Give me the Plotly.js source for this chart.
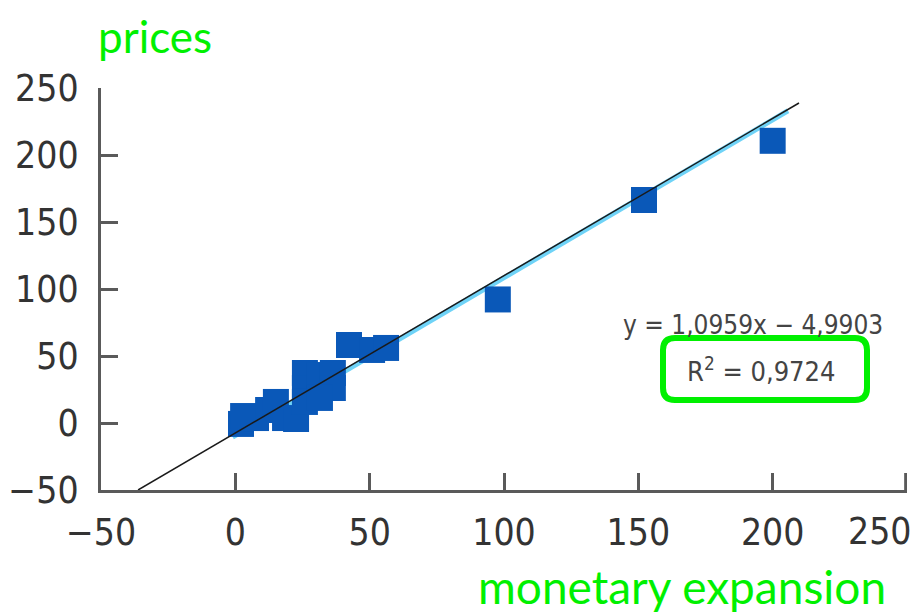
<!DOCTYPE html>
<html>
<head>
<meta charset="utf-8">
<script src="https://cdn.plot.ly/plotly-3.0.1.min.js"></script>
<style>html,body{margin:0;padding:0;background:#fff;}#chart{width:914px;height:616px;}</style>
</head>
<body>
<div id="chart"></div>
<script>
// Data
const expansion = [2.1, 2.9, 7.7, 12.2, 15.1, 18.5, 22.6, 25.9, 25.9, 25.9, 31.5, 36.3, 36.3, 31.5, 42.3, 50.9, 56.1, 97.7, 152.1, 200.0];
const prices    = [-0.7, 5.2, 3.7, 9.7, 15.7, 3.7, 3.0, 37.3, 26.1, 15.7, 35.8, 37.3, 26.1, 18.7, 58.2, 54.5, 56.0, 92.2, 166.4, 210.6];
const trendX = [-36.2, 209.8];
const trendY = [-50, 238.8];
const fitX = [-1, 205.7];
const fitY = [-10.5, 233.0];
const xTickValues = [-50, 0, 50, 100, 150, 200];
const yTickValues = [-50, 0, 50, 100, 150, 200, 250];
const xTickLabels = ['\u221250', '0', '50', '100', '150', '200'];
const yTickLabels = ['\u221250', '0', '50', '100', '150', '200', '250'];
const lastXValue = 250;
const lastXLabel = '250';
const equationText = 'y = 1,0959x \u2212 4,9903';
const r2Text = 'R<sup>2</sup> = 0,9724';
const xTitle = 'monetary expansion';
const yTitle = 'prices';

const tickFont = {family: '"DejaVu Sans Condensed", "Liberation Sans Narrow", sans-serif', size: 37, color: '#333333'};
const green = '#00f000';
const axisColor = '#5a5a5a';

const traces = [
  {x: fitX, y: fitY, mode: 'lines', line: {color: '#6fd3f7', width: 5}, hoverinfo: 'skip', showlegend: false},
  {x: expansion, y: prices, mode: 'markers', type: 'scatter',
   marker: {symbol: 'square', size: 26, color: '#0a58b8', line: {width: 0}}, showlegend: false},
  {x: trendX, y: trendY, mode: 'lines', line: {color: '#1a1a1a', width: 1.5}, hoverinfo: 'skip', showlegend: false}
];

const axisCommon = {
  showline: true, linecolor: axisColor, linewidth: 3,
  ticks: 'inside', ticklen: 17, tickwidth: 3, tickcolor: axisColor,
  showgrid: false, zeroline: false, tickfont: tickFont
};

// rounded box in paper coordinates
const bx0 = (663-101)/806, bx1 = (867-101)/806, by0 = (490-400)/402, by1 = (490-338)/402;
const rx = 12/806, ry = 12/402;
const boxPath = `M ${bx0+rx},${by0} L ${bx1-rx},${by0} Q ${bx1},${by0} ${bx1},${by0+ry} L ${bx1},${by1-ry} Q ${bx1},${by1} ${bx1-rx},${by1} L ${bx0+rx},${by1} Q ${bx0},${by1} ${bx0},${by1-ry} L ${bx0},${by0+ry} Q ${bx0},${by0} ${bx0+rx},${by0} Z`;

const layout = {
  width: 914, height: 616,
  margin: {l: 101, r: 7, t: 88, b: 126},
  paper_bgcolor: '#ffffff', plot_bgcolor: '#ffffff',
  showlegend: false,
  xaxis: Object.assign({}, axisCommon, {range: [-50, 250], tickvals: xTickValues, ticktext: xTickLabels, ticklabelstandoff: 8}),
  yaxis: Object.assign({}, axisCommon, {range: [-50, 250], tickvals: yTickValues, ticktext: yTickLabels, ticklabelstandoff: 12}),
  shapes: [
    {type: 'path', xref: 'paper', yref: 'paper', path: boxPath, line: {color: green, width: 6}},
    {type: 'line', xref: 'x', yref: 'paper', x0: lastXValue - 0.5, x1: lastXValue - 0.5, y0: 0, y1: 17/402,
     line: {color: axisColor, width: 3}}
  ],
  annotations: [
    {xref: 'paper', yref: 'paper', x: (880-101)/806, y: (490-531)/402, text: lastXLabel, showarrow: false,
     xanchor: 'center', yanchor: 'middle', font: tickFont},
    {xref: 'paper', yref: 'paper', x: (885-101)/806, y: (490-325)/402, text: equationText, showarrow: false,
     xanchor: 'right', yanchor: 'middle',
     font: {family: '"DejaVu Sans Condensed", sans-serif', size: 26, color: '#444444'}},
    {xref: 'paper', yref: 'paper', x: (761-101)/806, y: (490-369)/402, text: r2Text, showarrow: false,
     xanchor: 'center', yanchor: 'middle',
     font: {family: '"DejaVu Sans Condensed", sans-serif', size: 27, color: '#444444'}},
    {xref: 'paper', yref: 'paper', x: (96-101)/806, y: (490-36)/402, text: yTitle, showarrow: false,
     xanchor: 'left', yanchor: 'middle', font: {family: 'Lato, "Open Sans", sans-serif', size: 44, color: green}},
    {xref: 'paper', yref: 'paper', x: (476-101)/806, y: 0, yshift: -126, text: xTitle, showarrow: false,
     xanchor: 'left', yanchor: 'bottom', font: {family: 'Lato, "Open Sans", sans-serif', size: 46, color: green}}
  ]
};

Plotly.newPlot('chart', traces, layout, {staticPlot: true, displayModeBar: false});
</script>
</body>
</html>
